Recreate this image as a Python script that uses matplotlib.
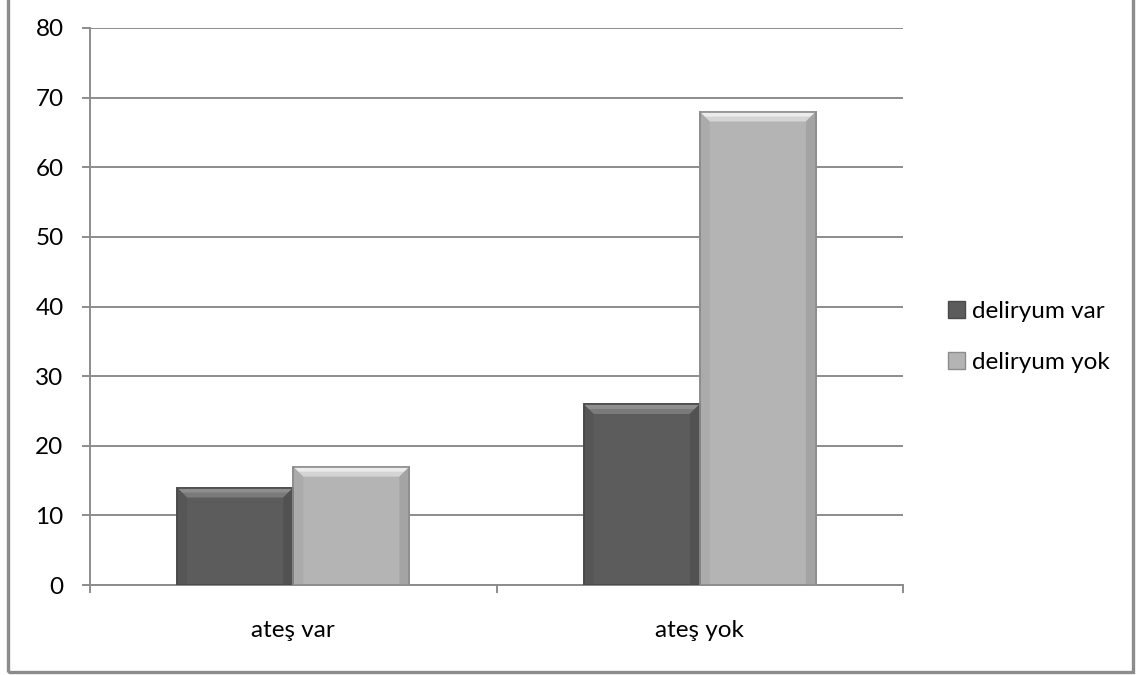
import matplotlib
matplotlib.use("Agg")
import matplotlib.pyplot as plt
from matplotlib.patches import Polygon, Rectangle, Patch

plt.rcParams['font.family'] = ['Lato', 'DejaVu Sans']

# Data
categories = ["ateş var", "ateş yok"]
series_names = ["deliryum var", "deliryum yok"]
deliryum_var = [14, 26]
deliryum_yok = [17, 68]

face = ["#5c5c5c", "#b4b4b4"]
top_bevel = ["#7a7a7a", "#d4d4d4"]
top_hi = ["#8e8e8e", "#ececec"]
side_bevel = ["#525252", "#a4a4a4"]
edge = ["#4a4a4a", "#8c8c8c"]
grid_gray = "#8c8c8c"

W, H, DPI = 1145, 675, 100
fig = plt.figure(figsize=(W / DPI, H / DPI), dpi=DPI)

# plot area in pixel terms
left, right, top, bottom = 90, 903, 28, 585
ax = fig.add_axes([left / W, (H - bottom) / H, (right - left) / W, (bottom - top) / H])

x = list(range(len(categories)))
bw = 1 / 3.5  # 150% gap width
ax.set_xlim(-0.5, len(categories) - 0.5)
ax.set_ylim(0, 80)

px_x = (right - left) / len(categories)
px_y = (bottom - top) / 80
bev = 10
dx, dy = bev / px_x, bev / px_y

for i, vals in enumerate([deliryum_var, deliryum_yok]):
    pos = [c - bw + i * bw for c in x]
    bars = ax.bar(pos, vals, width=bw, align='edge', color=face[i],
                  edgecolor=edge[i], linewidth=1.2, zorder=3)
    for b in bars:
        x0, w, h = b.get_x(), b.get_width(), b.get_height()
        # bevel: top band with a brighter upper half, darker sides
        ax.add_patch(Polygon([(x0, h), (x0 + w, h), (x0 + w - dx, h - dy), (x0 + dx, h - dy)],
                             closed=True, color=top_bevel[i], lw=0, zorder=4))
        ax.add_patch(Polygon([(x0, h), (x0 + w, h), (x0 + w - dx / 2, h - dy / 2), (x0 + dx / 2, h - dy / 2)],
                             closed=True, color=top_hi[i], lw=0, zorder=4))
        ax.add_patch(Polygon([(x0, 0), (x0, h), (x0 + dx, h - dy), (x0 + dx, 0)],
                             closed=True, color=side_bevel[i], lw=0, alpha=0.5, zorder=4))
        ax.add_patch(Polygon([(x0 + w, 0), (x0 + w, h), (x0 + w - dx, h - dy), (x0 + w - dx, 0)],
                             closed=True, color=side_bevel[i], lw=0, zorder=4))
        ax.add_patch(Rectangle((x0, 0), w, h, fill=False, ec=edge[i], lw=1.2, zorder=5))

# gridlines and axes
ax.set_yticks(range(0, 81, 10))
ax.yaxis.grid(True, color=grid_gray, linewidth=1.4, zorder=0)
ax.set_axisbelow(True)
for s in ["top", "right"]:
    ax.spines[s].set_visible(False)
for s in ["left", "bottom"]:
    ax.spines[s].set_color(grid_gray)
    ax.spines[s].set_linewidth(1.4)

ax.set_xticks(x)
ax.set_xticklabels(categories)
ax.set_xticks([c - 0.5 for c in x] + [x[-1] + 0.5], minor=True)
ax.tick_params(axis='x', which='major', length=0, pad=25, labelsize=17.5)
ax.tick_params(axis='x', which='minor', length=6, width=1.4, color=grid_gray, direction='out')
ax.tick_params(axis='y', length=6, width=1.4, color=grid_gray, pad=13, labelsize=17.5)

# legend
handles = [Patch(facecolor=face[i], edgecolor=edge[i]) for i in range(2)]
fig.legend(handles, series_names, loc='center left', bbox_to_anchor=(926 / W, 1 - 337 / H),
           frameon=False, fontsize=17.5, handlelength=0.7, handleheight=0.7,
           handletextpad=0.3, labelspacing=1.2)

# outer frame
fig.add_artist(Rectangle((8 / W, 3 / H), (1133 - 8) / W, 1.0, transform=fig.transFigure,
                         fill=False, ec=grid_gray, lw=2.4, clip_on=False))

fig.savefig("out.png", dpi=DPI)
